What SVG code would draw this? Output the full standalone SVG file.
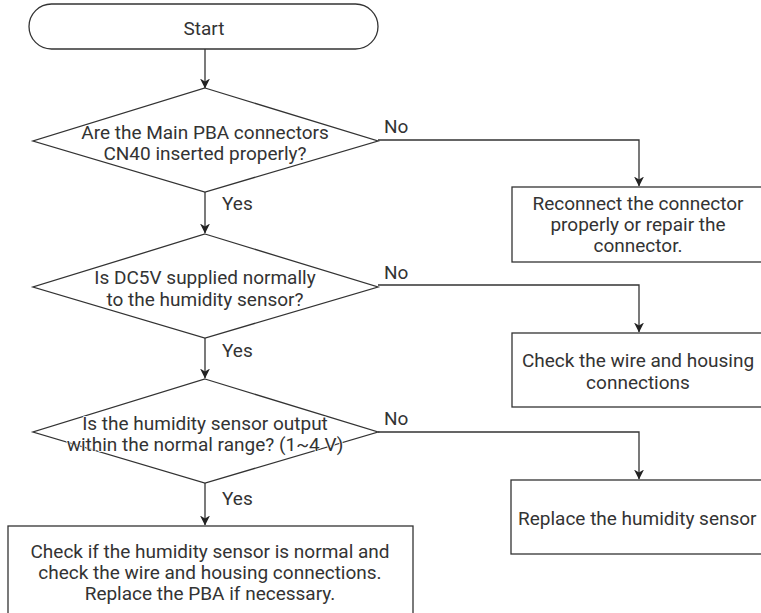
<svg xmlns="http://www.w3.org/2000/svg" width="761" height="613" viewBox="0 0 761 613">
  <style>
    .shape { fill: #fff; stroke: #333; stroke-width: 1.3; }
    .wire { fill: none; stroke: #333; stroke-width: 1.3; }
    text { font-family: Roboto, "Liberation Sans", sans-serif; font-size: 19px; fill: #333; }
    .c { text-anchor: middle; }
    .halo { paint-order: stroke; stroke: #fff; stroke-width: 1.6; }
  </style>
  <defs>
    <marker id="arr" markerUnits="userSpaceOnUse" markerWidth="10" markerHeight="14" refX="9.5" refY="5" orient="auto">
      <path d="M0,0 L10,5 L0,10 L3,5 z" fill="#222"/>
    </marker>
  </defs>
  <rect width="761" height="613" fill="#fff"/>

  <g id="connectors">
    <line class="wire" x1="205" y1="49" x2="205" y2="88" marker-end="url(#arr)"/>
    <line class="wire" x1="205" y1="192" x2="205" y2="233" marker-end="url(#arr)"/>
    <line class="wire" x1="205" y1="338" x2="205" y2="378" marker-end="url(#arr)"/>
    <line class="wire" x1="205" y1="483" x2="205" y2="525" marker-end="url(#arr)"/>
    <polyline class="wire" points="378,140 639,140 639,186" marker-end="url(#arr)"/>
    <polyline class="wire" points="378,285 639,285 639,332" marker-end="url(#arr)"/>
    <polyline class="wire" points="378,432 639,432 639,479" marker-end="url(#arr)"/>
    <text x="384" y="133">No</text>
    <text x="384" y="279">No</text>
    <text x="384" y="425">No</text>
    <text x="222" y="210">Yes</text>
    <text x="222" y="357">Yes</text>
    <text x="222" y="505">Yes</text>
  </g>

  <g id="start">
    <rect class="shape" x="29" y="4" width="349" height="45" rx="22.5"/>
    <text class="c" x="204" y="35">Start</text>
  </g>

  <g id="check-connector">
    <polygon class="shape" points="205,88 378,141 205,192 33,141"/>
    <text class="c halo" x="205" y="139">Are the Main PBA connectors</text>
    <text class="c halo" x="205" y="160">CN40 inserted properly?</text>
  </g>

  <g id="reconnect">
    <rect class="shape" x="512" y="187" width="260" height="75"/>
    <text class="c" x="638" y="210">Reconnect the connector</text>
    <text class="c" x="638" y="231">properly or repair the</text>
    <text class="c" x="638" y="252">connector.</text>
  </g>

  <g id="check-supply">
    <polygon class="shape" points="205,234 378,287 205,338 33,287"/>
    <text class="c halo" x="205" y="284">Is DC5V supplied normally</text>
    <text class="c halo" x="205" y="306">to the humidity sensor?</text>
  </g>

  <g id="check-wiring">
    <rect class="shape" x="512" y="333" width="260" height="74"/>
    <text class="c" x="638" y="367">Check the wire and housing</text>
    <text class="c" x="638" y="389">connections</text>
  </g>

  <g id="check-output">
    <polygon class="shape" points="205,379 378,432 205,483 33,432"/>
    <text class="c halo" x="205" y="430">Is the humidity sensor output</text>
    <text class="c halo" x="205" y="451">within the normal range? (1~4 V)</text>
  </g>

  <g id="replace-sensor">
    <rect class="shape" x="511" y="480" width="260" height="74"/>
    <text x="518" y="525">Replace the humidity sensor</text>
  </g>

  <g id="replace-pba">
    <rect class="shape" x="8" y="526" width="405" height="92"/>
    <text class="c" x="210" y="558">Check if the humidity sensor is normal and</text>
    <text class="c" x="210" y="579">check the wire and housing connections.</text>
    <text class="c" x="210" y="600">Replace the PBA if necessary.</text>
  </g>
</svg>
